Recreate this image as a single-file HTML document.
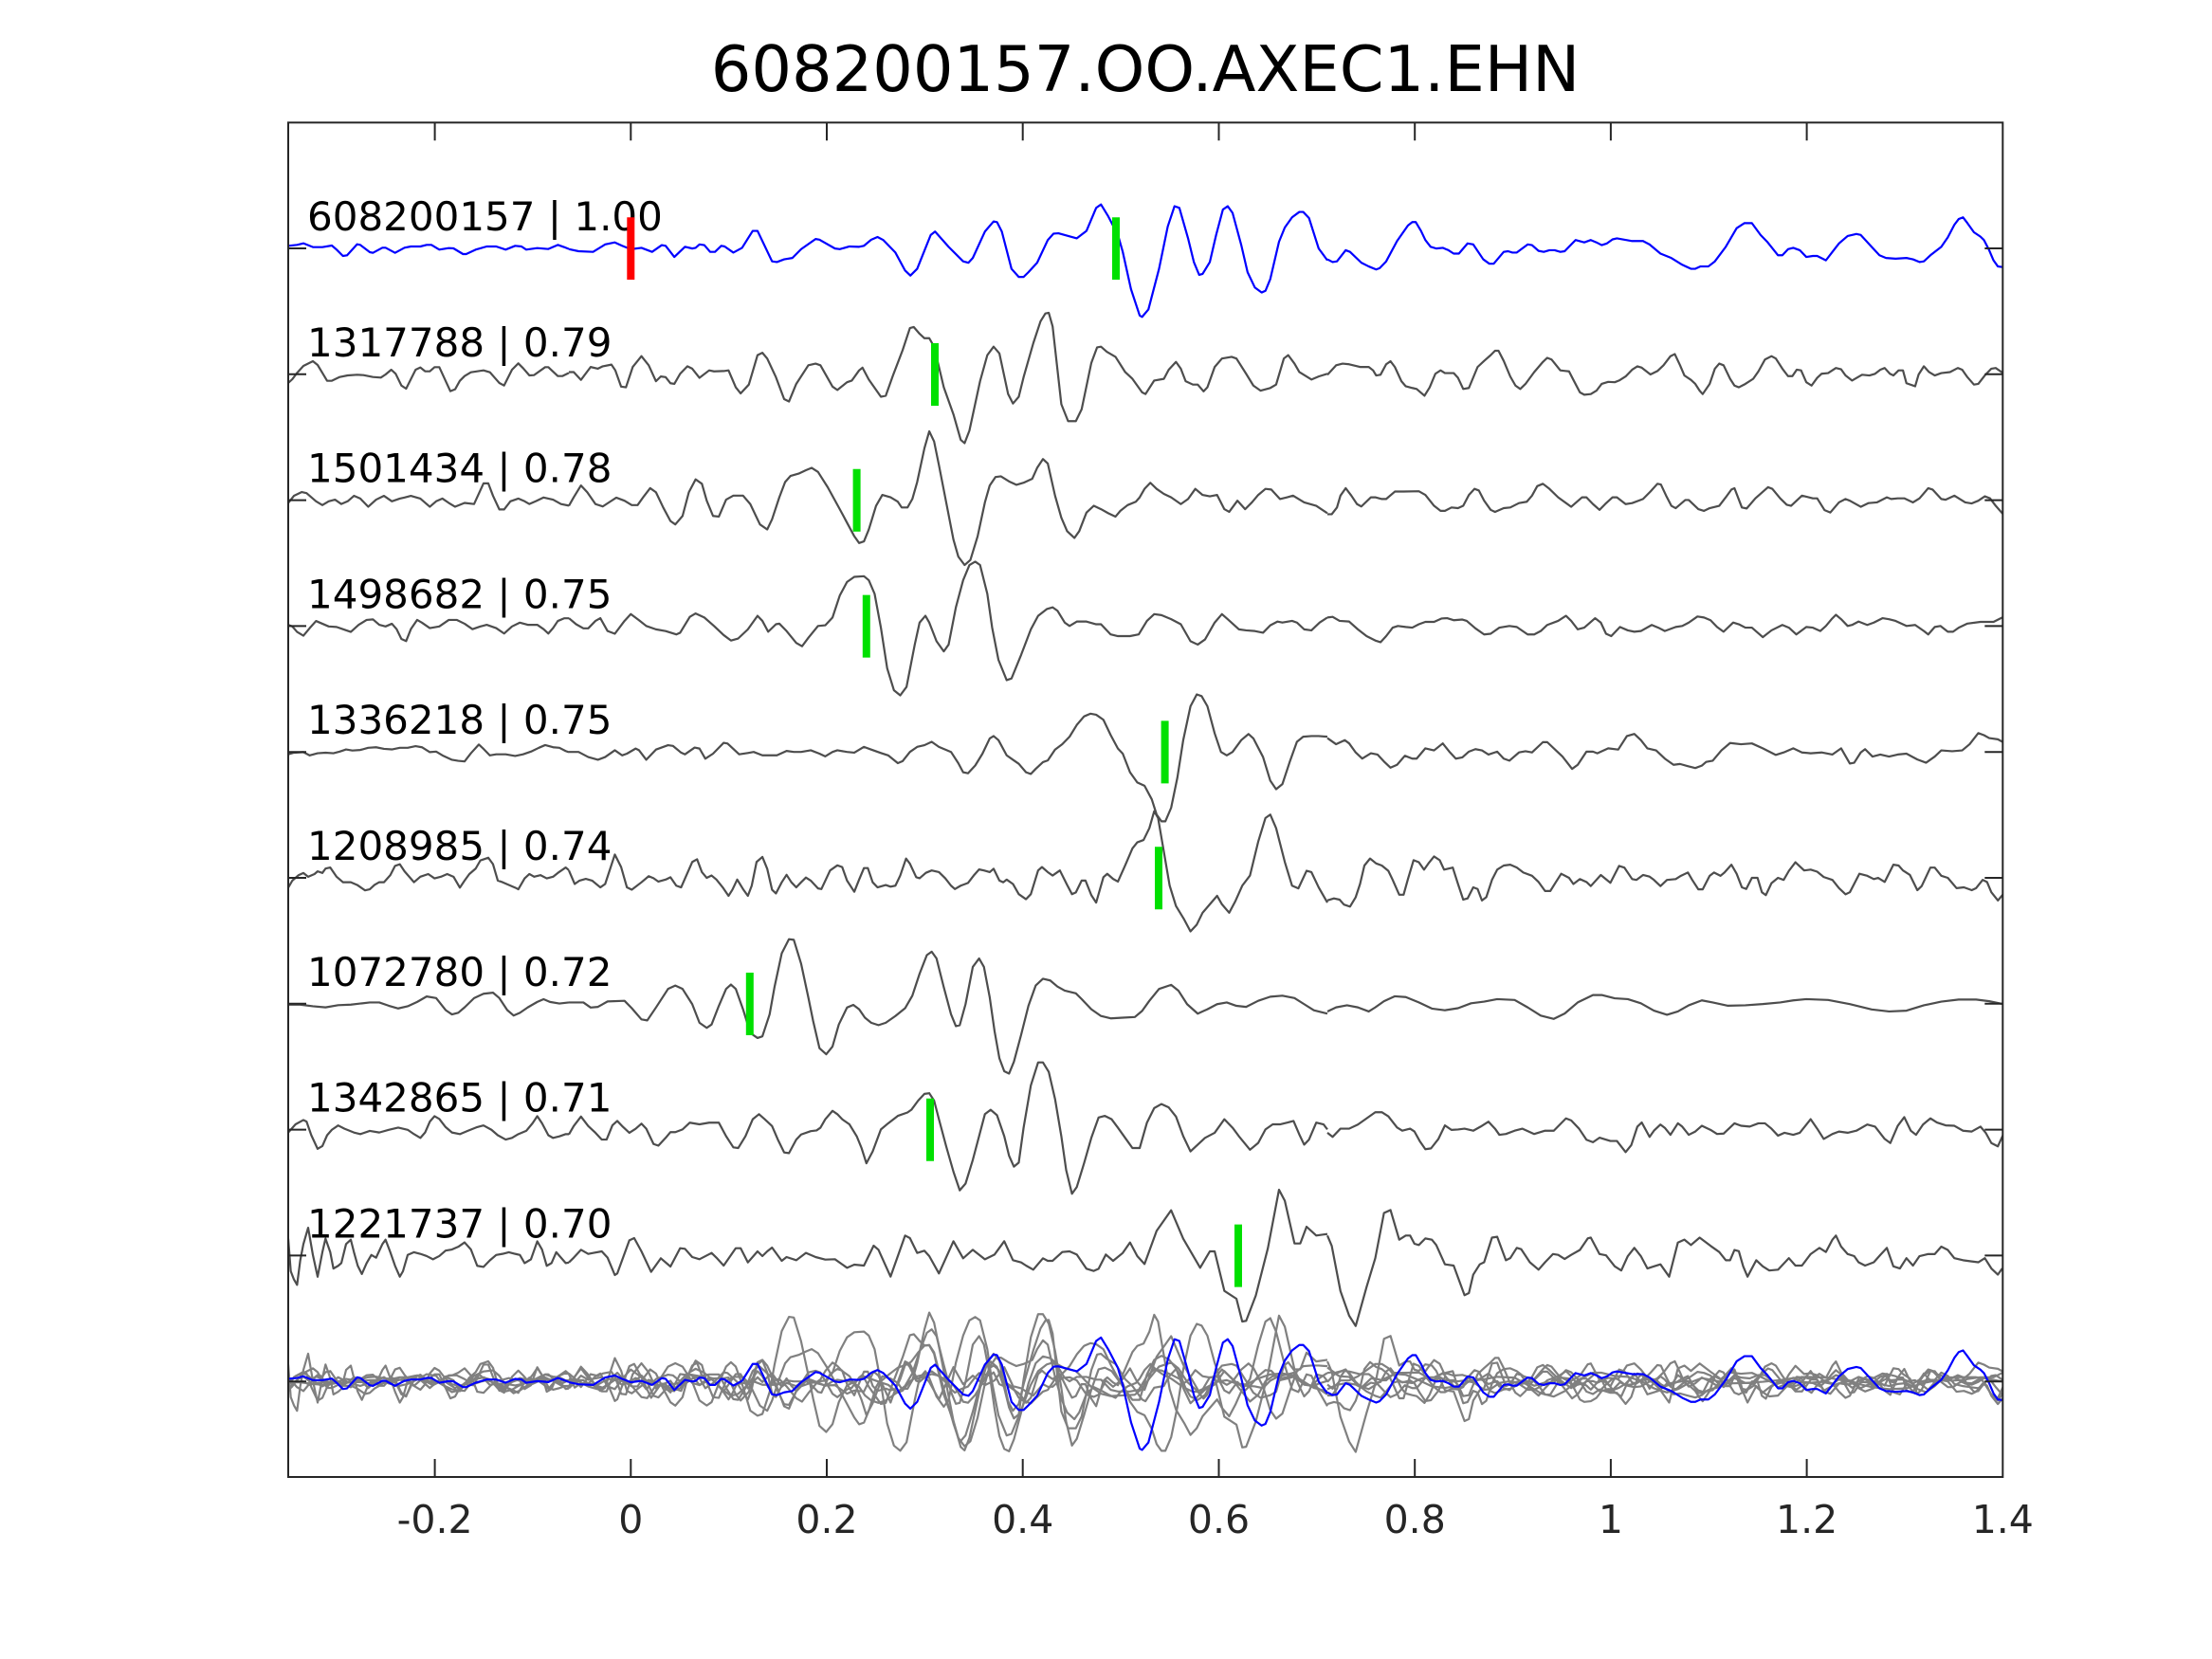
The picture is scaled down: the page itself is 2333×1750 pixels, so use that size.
<!DOCTYPE html>
<html><head><meta charset="utf-8"><style>
html,body{margin:0;padding:0;background:#fff;}
svg{display:block;}
text{font-family:"DejaVu Sans","Liberation Sans",sans-serif;}
</style></head><body>
<svg width="2333" height="1750" viewBox="0 0 2333 1750" xmlns="http://www.w3.org/2000/svg">
<defs>
<clipPath id="c"><rect x="304" y="129.3" width="1808.3" height="1428.7"/></clipPath>

<g id="t1" fill="none" stroke-width="2.2" stroke-linejoin="round">
<polyline vector-effect="non-scaling-stroke" transform="translate(280,100) scale(0.33333)" points="72,478 100,475 120,470 150,482 180,482 210,477 225,490 245,510 258,508 290,473 300,475 330,498 340,500 370,484 380,484 410,500 440,484 460,480 490,480 510,475 525,475 550,490 580,485 595,486 625,504 635,504 665,490 700,480 730,480 760,490 790,478 810,480 825,490 860,485 895,488 925,475 945,482 960,488"/>
<polyline vector-effect="non-scaling-stroke" transform="translate(600,180) scale(0.5102,0.3571)" points="0,232 20,238 50,240 75,218 95,212 110,222 128,232 150,228 172,240 192,220 200,222 218,255 240,225 255,230 262,228 270,218 280,220 292,240 302,240 315,222 322,224 340,242 358,228 380,178 390,178 420,268 430,270 445,262 462,258 480,232 510,202 518,204 550,230 560,232 580,224 600,225 610,222 625,204 638,196 650,205 675,242 695,295 706,310 720,290 748,190 757,180 785,225 815,268 826,272 835,258 860,180 878,150 885,152 895,180 915,290 930,314 940,314 950,300 968,272 990,205 1002,186 1012,185 1035,194 1050,200 1070,178 1090,110 1100,100 1115,135 1135,190 1145,240 1162,350 1180,428 1185,432 1198,410 1220,290 1238,165 1252,105 1262,110 1280,200 1292,270 1303,308 1310,305 1325,270 1338,190 1352,115 1362,105 1372,125 1390,220 1403,300 1418,345 1432,360 1440,355 1450,320 1468,210 1480,168 1495,138 1510,122 1518,122 1530,140 1550,230 1568,265"/>
<polyline vector-effect="non-scaling-stroke" transform="translate(1400,180) scale(0.4592,0.3571)" points="0,262 12,270 22,268 42,235 52,240 78,272 95,283 112,292 120,288 135,268 160,208 185,162 195,152 203,152 215,178 225,205 237,225 250,230 265,228 278,235 290,245 302,245 322,215 335,218 358,262 372,275 382,275 405,240 415,238 425,242 435,242 460,218 470,220 485,237 497,240 510,235 522,235 535,240 545,238 570,205 590,212 605,205 618,212 630,220 642,215 655,203 665,200 700,208 725,208 740,218 765,245 790,258 815,278 835,290 845,290 857,283 875,283 890,268 915,225 940,170 958,155 975,155 995,190 1010,210 1035,250 1045,250 1058,232 1070,228 1085,235 1100,255 1115,252 1125,252 1145,265 1160,240 1175,215 1195,193 1215,187 1225,190 1250,225 1268,250 1283,258 1305,260 1330,258 1345,262 1360,270 1370,268 1385,250 1410,225 1425,197 1440,160 1450,143 1460,138 1470,155 1485,182 1500,195 1508,205 1520,235 1530,265 1540,283 1552,285"/>
</g>

<g id="t2" fill="none" stroke-width="2.2" stroke-linejoin="round">
<polyline vector-effect="non-scaling-stroke" transform="translate(280,100) scale(0.33333)" points="72,912 85,900 100,880 120,858 150,843 165,855 180,880 195,905 210,905 235,893 260,888 290,886 310,887 340,893 365,895 380,885 398,870 412,883 430,920 445,930 475,870 490,863 505,875 520,875 535,862 550,862 585,938 600,932 615,905 630,890 650,878 690,872 710,878 725,895 740,912 755,920 780,870 800,850 815,865 835,888 850,887 885,862 895,862 925,890 940,890 960,880"/>
<polyline vector-effect="non-scaling-stroke" transform="translate(600,180) scale(0.5102,0.3571)" points="0,595 10,595 25,618 45,580 60,585 70,578 88,573 96,590 108,638 118,640 132,580 150,548 165,575 180,622 190,608 200,610 210,628 218,630 230,600 245,578 255,585 270,612 290,590 300,593 320,592 330,590 345,640 355,658 372,632 390,545 400,538 410,555 428,610 445,675 455,682 470,630 495,575 510,570 520,575 545,638 555,648 575,625 585,620 600,590 607,582 620,617 645,668 655,665 670,605 690,530 705,465 713,462 725,482 735,495 745,495 755,520 775,640 795,720 810,795 818,805 828,768 850,622 865,545 878,520 890,540 908,660 918,688 930,668 940,610 960,510 975,445 985,422 992,420 1000,460 1018,690 1032,740 1048,740 1060,705 1080,568 1092,522 1100,520 1112,535 1130,550 1150,595 1165,615 1185,655 1192,660 1210,620 1230,615 1240,588 1255,565 1265,585 1275,622 1290,632 1300,632 1312,652 1320,640 1335,580 1350,555 1370,550 1380,555 1400,600 1415,635 1430,650 1450,642 1462,632 1478,555 1487,545 1500,570 1510,595 1535,617 1550,608 1568,600"/>
<polyline vector-effect="non-scaling-stroke" transform="translate(1400,180) scale(0.4592,0.3571)" points="0,603 20,575 35,570 50,572 75,580 95,580 105,590 112,605 122,603 135,572 145,563 155,580 170,622 180,637 195,642 205,645 223,665 235,640 248,600 260,590 270,598 290,598 300,612 312,645 325,642 345,580 360,562 375,545 385,532 393,532 405,562 420,608 432,635 443,645 455,630 475,595 495,565 505,553 515,558 535,590 555,593 565,618 580,655 590,662 605,660 618,650 630,630 645,624 660,625 670,620 685,608 700,588 712,578 722,582 742,602 758,592 772,575 788,548 798,542 810,575 820,605 835,618 845,630 855,650 862,660 878,630 890,585 900,570 910,575 925,615 935,635 945,640 960,630 978,615 990,593 1005,558 1020,548 1030,555 1045,585 1058,607 1068,607 1078,588 1088,590 1100,625 1112,635 1125,612 1135,600 1150,598 1168,583 1180,587 1190,605 1205,620 1228,603 1245,605 1258,600 1270,588 1280,583 1292,600 1300,605 1312,590 1322,590 1330,628 1350,637 1358,602 1370,578 1382,595 1395,605 1410,598 1430,595 1448,583 1458,588 1470,610 1485,632 1495,630 1510,605 1525,585 1535,583 1552,598"/>
</g>

<g id="t3" fill="none" stroke-width="2.2" stroke-linejoin="round">
<polyline vector-effect="non-scaling-stroke" transform="translate(290,480) scale(0.33333,0.574)" points="42,88 60,75 85,68 100,70 130,85 150,92 170,85 190,82 210,90 230,85 250,75 270,80 295,95 320,82 345,75 370,85 395,80 410,78 430,75 460,80 490,95 510,85 530,80 550,88 570,95 600,88 630,90 660,52 675,52 690,75 710,100 725,100 745,85 770,80 790,85 805,90 825,85 850,78 880,82 905,90 930,93"/>
<polyline vector-effect="non-scaling-stroke" transform="translate(600,180) scale(0.5102,0.3571)" points="0,990 10,965 25,930 38,950 55,985 70,992 85,978 98,966 115,975 130,988 142,988 155,962 168,938 180,950 195,995 210,1035 220,1045 235,1020 248,950 262,912 275,925 285,975 298,1020 310,1022 325,972 340,960 360,960 375,985 395,1045 410,1060 420,1030 435,965 447,920 458,902 475,895 490,885 502,878 515,890 535,935 560,1000 590,1080 600,1100 610,1095 620,1060 635,990 648,958 665,965 680,978 688,995 700,995 710,970 720,920 735,820 745,770 755,800 765,870 780,980 795,1090 805,1140 818,1165 830,1150 845,1080 860,980 870,930 882,905 893,903 910,918 925,928 940,922 958,910 968,878 980,852 990,865 1005,960 1018,1025 1030,1065 1045,1085 1055,1065 1070,1010 1085,990 1100,1000 1115,1012 1130,1022 1140,1005 1155,988 1172,978 1180,965 1190,940 1202,922 1215,940 1230,955 1245,965 1265,985 1280,970 1295,940 1310,958 1325,962 1340,958 1355,1000 1365,1008 1382,975 1398,1000 1412,980 1425,958 1440,940 1452,942 1470,970 1485,965 1497,960 1520,980 1545,990 1568,1012"/>
<polyline vector-effect="non-scaling-stroke" transform="translate(1400,180) scale(0.4592,0.3571)" points="0,1015 10,1015 22,995 30,960 42,938 55,960 68,985 78,992 100,965 110,965 125,970 135,970 155,948 175,948 210,947 225,958 245,990 260,1005 270,1005 285,995 300,997 312,990 325,958 338,940 348,945 360,975 375,1002 385,1008 405,997 420,995 440,982 458,978 470,960 482,932 495,925 510,940 530,965 560,993 585,965 595,965 610,985 625,1002 638,985 655,965 665,965 685,985 700,982 725,970 742,948 758,925 766,927 778,960 790,990 800,997 822,973 830,973 852,1000 865,1005 878,997 900,990 915,965 928,942 935,938 952,995 963,998 983,968 1012,935 1022,940 1040,968 1055,987 1065,990 1090,960 1100,963 1115,968 1125,968 1142,1003 1155,1010 1175,980 1190,970 1200,975 1225,993 1243,982 1262,980 1285,965 1295,970 1310,968 1325,968 1345,980 1360,968 1380,938 1390,942 1410,970 1420,972 1440,960 1465,980 1480,983 1495,975 1510,962 1522,968 1535,990 1552,1015"/>
</g>

<g id="t4" fill="none" stroke-width="2.2" stroke-linejoin="round">
<polyline vector-effect="non-scaling-stroke" transform="translate(290,480) scale(0.33333,0.574)" points="42,312 55,315 70,325 90,332 110,318 130,305 150,310 170,315 195,316 215,320 240,325 265,312 290,303 310,302 330,312 350,315 370,310 385,320 400,338 415,342 430,320 450,303 465,308 490,318 520,315 550,303 575,303 600,310 625,320 650,315 670,312 700,318 725,328 750,315 775,308 800,312 830,312 850,320 865,328 880,318 895,305 915,300 930,300"/>
<polyline vector-effect="non-scaling-stroke" transform="translate(600,180) scale(0.5102,0.3571)" points="0,1322 15,1340 30,1352 40,1352 55,1330 65,1322 80,1360 95,1368 115,1330 128,1310 145,1328 160,1345 180,1355 200,1360 222,1370 230,1365 250,1318 262,1308 280,1320 300,1345 320,1372 335,1388 350,1382 370,1355 390,1315 400,1330 412,1362 428,1340 435,1338 450,1360 470,1395 482,1405 495,1380 515,1345 530,1343 545,1320 560,1255 575,1215 590,1200 610,1198 620,1210 632,1250 645,1350 658,1470 672,1535 685,1550 698,1525 715,1400 725,1335 737,1315 745,1335 760,1390 775,1420 785,1400 800,1290 815,1210 828,1165 840,1155 850,1165 865,1250 875,1350 888,1445 905,1505 915,1500 935,1430 955,1355 970,1315 988,1295 1000,1290 1010,1300 1025,1335 1035,1345 1050,1332 1070,1332 1090,1340 1100,1340 1120,1370 1135,1375 1160,1375 1178,1370 1195,1330 1210,1310 1225,1313 1245,1325 1265,1340 1285,1390 1300,1400 1315,1385 1335,1335 1350,1310 1362,1325 1385,1355 1400,1358 1418,1360 1435,1365 1450,1343 1465,1332 1475,1335 1495,1330 1505,1335 1520,1355 1535,1358 1552,1335 1568,1320"/>
<polyline vector-effect="non-scaling-stroke" transform="translate(1400,180) scale(0.4592,0.3571)" points="0,1320 12,1318 28,1330 50,1332 70,1355 90,1375 110,1388 122,1393 135,1375 150,1350 162,1345 180,1348 195,1350 210,1340 225,1333 245,1333 262,1323 275,1322 290,1328 310,1326 320,1330 340,1352 360,1370 375,1368 395,1350 418,1345 435,1348 460,1370 475,1370 490,1360 505,1342 530,1330 548,1315 560,1330 575,1355 590,1350 615,1322 628,1335 640,1368 652,1375 672,1348 690,1358 705,1362 720,1360 745,1342 760,1350 775,1360 800,1348 815,1345 830,1335 850,1317 865,1320 880,1328 895,1348 910,1362 932,1335 945,1340 960,1350 975,1350 1000,1378 1020,1358 1045,1342 1060,1350 1077,1370 1100,1348 1115,1350 1132,1360 1145,1345 1158,1325 1168,1312 1180,1325 1195,1345 1205,1342 1220,1332 1240,1342 1255,1335 1275,1322 1290,1325 1305,1330 1330,1345 1350,1342 1370,1360 1380,1370 1395,1348 1408,1345 1425,1362 1437,1362 1450,1350 1470,1338 1500,1333 1530,1333 1550,1320"/>
</g>

<g id="t5" fill="none" stroke-width="2.2" stroke-linejoin="round">
<polyline vector-effect="non-scaling-stroke" transform="translate(290,480) scale(0.33333,0.574)" points="42,550 60,547 90,546 110,552 135,548 160,547 185,548 205,545 225,541 245,543 270,542 295,538 320,537 345,540 370,541 395,538 420,538 445,535 465,537 490,546 510,545 530,552 560,560 580,562 600,563 620,548 645,532 660,540 680,552 700,550 730,550 760,553 785,550 810,545 835,538 855,533 880,537 900,538 920,544 930,546"/>
<polyline vector-effect="non-scaling-stroke" transform="translate(600,720) scale(0.5102,0.3571)" points="0,205 20,205 40,220 60,228 75,220 95,200 110,215 120,210 138,195 145,200 160,228 172,210 180,198 205,185 215,187 232,207 240,212 260,192 270,195 282,225 298,210 320,178 328,180 352,212 370,208 382,205 400,215 430,215 450,202 465,205 480,205 500,200 518,210 530,218 545,205 555,200 575,205 590,207 610,190 625,198 645,208 660,215 680,238 690,232 705,205 720,190 735,185 750,175 765,190 790,205 805,238 815,265 825,268 840,245 855,210 870,165 878,158 888,170 905,215 918,228 930,240 945,265 955,270 965,255 980,235 990,230 1005,198 1020,182 1035,160 1050,125 1065,100 1078,92 1090,95 1105,110 1120,155 1135,195 1145,210 1160,265 1175,295 1190,305 1205,345 1215,390 1225,410 1233,410 1245,370 1258,280 1270,170 1285,70 1298,35 1308,40 1320,70 1335,150 1348,205 1360,215 1372,205 1390,170 1405,152 1415,165 1435,220 1450,290 1462,315 1475,300 1490,235 1505,175 1518,160 1535,158 1550,158 1568,160"/>
<polyline vector-effect="non-scaling-stroke" transform="translate(1400,720) scale(0.4592,0.4337)" points="0,135 20,150 40,140 50,148 65,170 80,185 100,172 115,175 130,192 145,207 160,200 178,178 195,185 205,185 225,160 245,165 265,148 280,168 295,185 310,182 325,168 340,162 355,165 370,175 390,168 405,185 418,190 440,170 455,167 470,170 495,145 505,145 525,165 540,180 562,210 575,200 595,168 610,168 620,172 645,160 668,163 688,130 705,125 720,140 735,160 755,165 775,185 795,200 810,198 830,204 845,208 860,202 870,193 885,190 905,165 925,147 950,150 975,148 1000,160 1030,176 1048,170 1070,160 1090,170 1110,172 1135,170 1160,175 1180,160 1200,197 1210,195 1225,170 1235,162 1252,180 1270,175 1290,180 1310,175 1330,173 1355,187 1375,195 1395,180 1410,165 1435,167 1458,165 1475,150 1495,123 1508,128 1520,135 1540,138 1552,145"/>
</g>

<g id="t6" fill="none" stroke-width="2.2" stroke-linejoin="round">
<polyline vector-effect="non-scaling-stroke" transform="translate(290,480) scale(0.33333,0.574)" points="42,795 55,782 75,772 90,768 105,775 125,770 135,765 150,768 160,760 175,758 195,775 215,785 240,785 260,790 285,800 300,798 315,790 330,785 345,785 365,772 380,755 395,752 410,765 425,775 440,785 460,775 485,770 505,778 525,775 545,770 565,775 585,795 600,782 615,770 635,760 650,745 665,742 675,740 690,752 705,782 720,785 740,790 760,795 770,798 790,778 805,770 820,775 840,772 860,778 880,775 895,768 920,758 930,763"/>
<polyline vector-effect="non-scaling-stroke" transform="translate(600,720) scale(0.5102,0.3571)" points="0,555 12,595 22,585 35,580 48,585 65,605 75,595 95,508 108,545 120,605 130,612 150,590 165,572 175,578 185,588 200,582 210,575 222,600 232,605 255,530 265,522 275,560 285,577 295,570 305,582 318,605 330,630 338,612 348,582 360,610 370,630 378,600 388,530 400,515 410,550 420,612 428,623 440,590 450,568 460,590 470,605 480,590 490,576 500,585 515,608 522,610 540,555 555,540 565,545 575,585 590,618 600,582 610,548 618,548 628,590 638,605 655,598 665,603 675,600 685,570 697,520 705,535 718,575 725,578 738,562 750,555 765,560 778,578 790,600 798,610 810,600 825,592 838,568 848,552 858,555 870,560 878,550 890,585 898,590 905,582 918,595 930,625 945,640 955,625 970,555 978,545 990,560 1000,570 1015,555 1030,598 1040,625 1048,620 1060,585 1068,585 1080,628 1090,650 1105,575 1113,565 1125,580 1135,588 1150,540 1165,490 1175,472 1188,465 1200,430 1210,380 1218,400 1230,500 1242,600 1255,660 1272,700 1285,735 1298,715 1310,680 1325,655 1340,630 1350,655 1365,680 1378,645 1392,600 1408,570 1425,470 1440,400 1450,390 1462,430 1480,530 1495,600 1508,608 1525,556 1535,560 1550,605 1568,650"/>
<polyline vector-effect="non-scaling-stroke" transform="translate(1400,720) scale(0.4592,0.4337)" points="0,530 15,525 28,528 38,540 52,545 65,522 75,490 85,445 98,428 112,440 125,445 140,458 150,480 165,516 175,516 185,478 198,432 210,437 222,455 232,440 245,423 258,432 268,455 288,450 300,490 312,528 322,525 335,498 345,502 355,530 365,522 378,480 390,455 405,445 420,443 435,450 450,462 470,470 485,485 500,507 512,507 525,485 537,465 555,475 565,490 580,478 595,485 605,495 628,468 650,487 670,446 682,450 700,478 710,480 725,468 740,472 750,480 765,495 780,480 800,478 812,470 828,462 838,480 852,503 862,503 878,470 888,462 903,470 912,462 928,443 940,465 952,498 962,502 975,475 988,475 998,510 1007,517 1020,488 1035,475 1048,480 1060,458 1075,437 1095,457 1110,455 1125,460 1140,473 1160,480 1175,500 1190,515 1200,510 1222,465 1240,470 1255,478 1265,475 1280,485 1300,443 1312,445 1322,457 1338,468 1355,505 1365,495 1385,450 1395,450 1410,470 1425,475 1445,500 1462,498 1480,505 1490,500 1505,480 1515,485 1525,510 1540,530 1552,515"/>
</g>

<g id="t7" fill="none" stroke-width="2.2" stroke-linejoin="round">
<polyline vector-effect="non-scaling-stroke" transform="translate(290,480) scale(0.33333,0.574)" points="42,1010 80,1010 120,1013 160,1015 200,1011 240,1010 270,1008 300,1006 330,1006 360,1012 390,1017 420,1013 450,1005 480,995 510,998 540,1020 560,1028 580,1025 600,1015 630,998 660,990 690,988 710,998 735,1020 755,1030 775,1025 800,1015 830,1005 850,1000 870,1005 900,1008 930,1006"/>
<polyline vector-effect="non-scaling-stroke" transform="translate(600,720) scale(0.5102,0.3571)" points="0,945 30,945 45,960 60,958 80,942 115,940 130,962 150,995 162,998 180,960 205,905 220,895 235,905 255,950 270,1005 285,1020 295,1010 310,955 325,905 335,892 345,905 360,965 375,1035 390,1050 400,1045 415,980 425,900 440,800 455,758 465,760 480,830 495,930 505,1000 518,1080 532,1098 545,1075 558,1010 575,960 588,952 600,965 612,990 625,1005 640,1012 655,1005 675,985 695,962 710,925 725,860 740,805 750,795 760,815 775,900 790,980 800,1015 808,1012 820,950 835,840 848,815 858,840 870,930 880,1030 890,1110 900,1148 910,1155 920,1120 935,1040 950,955 965,895 980,875 995,880 1010,898 1025,910 1048,918 1060,935 1080,965 1100,985 1120,992 1145,990 1170,988 1185,970 1200,940 1220,905 1245,893 1260,910 1278,950 1300,978 1320,965 1340,950 1360,945 1380,955 1400,958 1425,940 1450,928 1475,925 1500,932 1520,950 1540,968 1568,978"/>
<polyline vector-effect="non-scaling-stroke" transform="translate(1400,720) scale(0.4592,0.4337)" points="0,800 20,790 45,785 70,790 95,800 110,790 130,775 155,763 180,765 210,778 240,793 270,797 300,792 330,780 360,776 390,770 430,772 460,790 490,810 520,818 545,805 575,778 610,760 630,760 660,768 690,770 720,780 750,798 780,808 805,800 830,785 860,773 885,778 920,786 960,785 1000,782 1040,778 1070,773 1100,770 1150,772 1200,782 1250,795 1290,800 1330,798 1370,785 1410,776 1450,771 1490,771 1520,775 1552,782"/>
</g>

<g id="t8" fill="none" stroke-width="2.2" stroke-linejoin="round">
<polyline vector-effect="non-scaling-stroke" transform="translate(290,480) scale(0.33333,0.574)" points="42,1245 65,1230 90,1222 100,1225 115,1250 135,1275 150,1270 165,1250 180,1240 200,1232 220,1238 250,1245 270,1248 300,1242 330,1245 360,1240 390,1236 420,1240 440,1248 460,1255 475,1245 490,1225 505,1215 520,1220 540,1235 560,1245 585,1248 610,1242 640,1235 660,1232 685,1240 705,1250 730,1258 750,1255 770,1248 795,1242 815,1228 830,1215 845,1228 865,1250 880,1255 900,1252 920,1248 930,1248"/>
<polyline vector-effect="non-scaling-stroke" transform="translate(600,720) scale(0.5102,0.3571)" points="0,1335 10,1310 25,1282 40,1310 55,1330 68,1350 78,1350 90,1308 100,1295 110,1310 125,1330 138,1318 150,1303 160,1318 175,1363 185,1368 200,1345 210,1328 220,1328 235,1320 250,1300 270,1305 290,1300 310,1300 325,1340 340,1373 350,1375 365,1340 380,1290 393,1275 405,1290 420,1310 432,1350 445,1388 455,1390 470,1350 480,1335 500,1325 512,1323 520,1315 530,1290 545,1265 555,1275 565,1290 580,1305 595,1340 605,1375 615,1420 628,1385 645,1320 660,1302 680,1280 700,1270 708,1262 722,1235 735,1215 745,1213 755,1235 765,1290 780,1370 795,1445 808,1500 820,1480 835,1410 848,1340 860,1275 872,1262 885,1278 900,1340 910,1398 920,1430 930,1418 940,1315 955,1190 970,1122 980,1122 992,1150 1005,1230 1018,1340 1028,1440 1040,1510 1050,1490 1065,1420 1080,1345 1095,1285 1108,1280 1122,1290 1135,1315 1150,1345 1165,1375 1180,1375 1195,1300 1210,1257 1225,1245 1240,1255 1255,1282 1270,1340 1285,1385 1300,1365 1315,1345 1335,1330 1355,1290 1372,1315 1385,1340 1408,1380 1425,1360 1440,1320 1455,1305 1470,1305 1485,1300 1498,1295 1510,1335 1520,1365 1530,1350 1545,1300 1560,1305 1568,1320"/>
<polyline vector-effect="non-scaling-stroke" transform="translate(1400,720) scale(0.4592,0.4337)" points="0,1095 12,1105 30,1085 50,1085 70,1075 90,1060 110,1045 125,1045 140,1055 160,1082 172,1090 190,1085 200,1092 212,1115 225,1135 238,1133 255,1110 270,1077 285,1088 300,1087 315,1085 335,1090 352,1080 370,1068 385,1085 395,1100 410,1098 430,1090 448,1085 475,1098 500,1090 520,1090 548,1060 560,1065 578,1085 595,1112 610,1118 625,1107 650,1115 665,1115 685,1142 698,1125 712,1080 722,1070 740,1105 750,1090 765,1075 775,1083 788,1100 805,1072 815,1080 830,1100 845,1092 860,1078 880,1088 895,1098 910,1097 935,1072 950,1078 970,1080 990,1072 1005,1072 1020,1085 1035,1102 1050,1095 1070,1100 1085,1095 1110,1062 1125,1085 1140,1110 1160,1098 1175,1092 1195,1095 1215,1090 1240,1075 1258,1080 1280,1110 1293,1120 1310,1078 1325,1057 1340,1090 1352,1100 1368,1075 1385,1060 1400,1070 1420,1077 1440,1078 1460,1090 1480,1092 1500,1080 1512,1095 1525,1120 1540,1128 1552,1100"/>
</g>

<g id="t9" fill="none" stroke-width="2.2" stroke-linejoin="round">
<polyline vector-effect="non-scaling-stroke" transform="translate(290,480) scale(0.33333,0.574)" points="42,1440 50,1500 60,1515 70,1525 80,1480 90,1450 105,1420 120,1470 135,1510 150,1465 160,1440 175,1465 185,1495 200,1490 210,1485 225,1450 240,1442 250,1465 262,1490 275,1505 290,1485 305,1470 320,1475 340,1450 350,1442 365,1465 380,1490 395,1510 405,1500 420,1470 440,1465 460,1468 480,1472 500,1478 520,1472 540,1462 560,1460 580,1455 600,1447 620,1460 640,1490 660,1492 680,1480 700,1470 720,1468 740,1465 760,1468 775,1470 790,1485 810,1478 830,1445 845,1460 860,1490 875,1485 890,1465 905,1475 920,1485 930,1484"/>
<polyline vector-effect="non-scaling-stroke" transform="translate(600,1240) scale(0.5102,0.33333)" points="0,275 10,260 25,235 40,248 50,245 68,240 80,260 95,315 100,310 125,205 135,198 150,240 170,305 190,262 210,288 230,230 240,232 255,258 270,265 295,245 305,260 320,285 345,230 355,230 370,275 390,240 400,255 410,240 420,228 440,270 450,258 470,268 490,245 510,258 530,266 550,265 575,292 590,282 610,285 630,222 640,235 665,320 695,190 705,198 720,245 735,238 745,255 765,310 795,208 815,262 835,235 860,265 880,250 900,208 918,268 935,275 945,285 960,298 980,262 990,270 1000,270 1020,242 1035,240 1050,250 1070,295 1085,302 1095,295 1110,250 1125,270 1145,245 1160,212 1175,255 1190,280 1215,175 1245,110 1270,200 1305,292 1325,240 1335,240 1355,365 1380,390 1392,462 1400,460 1420,380 1445,230 1468,45 1480,80 1500,215 1512,215 1525,162 1545,190 1568,185"/>
<polyline vector-effect="non-scaling-stroke" transform="translate(1400,720) scale(0.4592,0.4337)" points="0,1345 10,1370 30,1480 50,1540 65,1565 90,1470 110,1400 130,1290 145,1283 165,1355 180,1345 190,1345 200,1365 210,1368 225,1352 240,1355 250,1368 270,1415 290,1418 315,1490 325,1485 335,1440 350,1415 360,1410 378,1350 390,1348 410,1405 420,1400 435,1375 445,1378 465,1410 485,1428 500,1410 518,1390 530,1392 545,1402 560,1392 580,1380 598,1352 605,1350 625,1390 640,1393 660,1420 675,1430 690,1395 705,1375 720,1395 735,1425 750,1420 765,1415 785,1445 805,1362 820,1355 835,1368 855,1350 880,1370 900,1385 915,1405 925,1405 935,1380 945,1383 955,1420 965,1445 985,1405 1000,1420 1015,1430 1035,1428 1060,1400 1075,1418 1090,1418 1110,1390 1130,1375 1145,1385 1160,1355 1168,1345 1180,1372 1195,1390 1210,1395 1220,1410 1235,1418 1255,1410 1270,1392 1285,1375 1300,1420 1315,1425 1330,1400 1345,1418 1360,1395 1380,1390 1395,1390 1410,1372 1425,1380 1440,1400 1460,1405 1480,1408 1495,1410 1510,1400 1525,1425 1540,1440 1550,1425"/>
</g>
</defs>

<rect x="0" y="0" width="2333" height="1750" fill="#ffffff"/>

<text x="1208" y="96" font-size="67" text-anchor="middle" fill="#000">608200157.OO.AXEC1.EHN</text>

<g clip-path="url(#c)">
  <use href="#t1" stroke="#0000ff"/>
  <use href="#t2" stroke="#4d4d4d"/>
  <use href="#t3" stroke="#4d4d4d"/>
  <use href="#t4" stroke="#4d4d4d"/>
  <use href="#t5" stroke="#4d4d4d"/>
  <use href="#t6" stroke="#4d4d4d"/>
  <use href="#t7" stroke="#4d4d4d"/>
  <use href="#t8" stroke="#4d4d4d"/>
  <use href="#t9" stroke="#4d4d4d"/>
  <use href="#t2" stroke="#808080" transform="translate(0,1062.4)"/>
  <use href="#t3" stroke="#808080" transform="translate(0,929.6)"/>
  <use href="#t4" stroke="#808080" transform="translate(0,796.8)"/>
  <use href="#t5" stroke="#808080" transform="translate(0,664)"/>
  <use href="#t6" stroke="#808080" transform="translate(0,531.2)"/>
  <use href="#t7" stroke="#808080" transform="translate(0,398.4)"/>
  <use href="#t8" stroke="#808080" transform="translate(0,265.6)"/>
  <use href="#t9" stroke="#808080" transform="translate(0,132.8)"/>
  <use href="#t1" stroke="#0000ff" transform="translate(0,1195.2)"/>
</g>

<g font-size="42" fill="#000">
  <text x="324" y="243">608200157 | 1.00</text>
  <text x="324" y="375.8">1317788 | 0.79</text>
  <text x="324" y="508.6">1501434 | 0.78</text>
  <text x="324" y="641.4">1498682 | 0.75</text>
  <text x="324" y="774.2">1336218 | 0.75</text>
  <text x="324" y="907">1208985 | 0.74</text>
  <text x="324" y="1039.8">1072780 | 0.72</text>
  <text x="324" y="1172.6">1342865 | 0.71</text>
  <text x="324" y="1305.4">1221737 | 0.70</text>
</g>

<g stroke-width="8" stroke-linecap="butt">
  <line x1="665.3" y1="229.3" x2="665.3" y2="295" stroke="#ff0000"/>
  <g stroke="#00e000">
    <line x1="1177" y1="229.3" x2="1177" y2="295"/>
    <line x1="986" y1="362" x2="986" y2="428"/>
    <line x1="903.6" y1="494.8" x2="903.6" y2="560.8"/>
    <line x1="913.8" y1="627.6" x2="913.8" y2="693.6"/>
    <line x1="1228.6" y1="760.4" x2="1228.6" y2="826.4"/>
    <line x1="1222" y1="893.2" x2="1222" y2="959.2"/>
    <line x1="790.8" y1="1026" x2="790.8" y2="1092"/>
    <line x1="981" y1="1158.8" x2="981" y2="1224.8"/>
    <line x1="1306" y1="1291.6" x2="1306" y2="1357.6"/>
  </g>
</g>

<g stroke="#262626" stroke-width="2" fill="none">
  <rect x="304" y="129.3" width="1808.3" height="1428.7"/>
  <path d="M458.6 1558v-19M665.3 1558v-19M872 1558v-19M1078.7 1558v-19M1285.5 1558v-19M1492.2 1558v-19M1698.9 1558v-19M1905.6 1558v-19
           M458.6 129.3v19M665.3 129.3v19M872 129.3v19M1078.7 129.3v19M1285.5 129.3v19M1492.2 129.3v19M1698.9 129.3v19M1905.6 129.3v19
           M304 262h19M304 394.8h19M304 527.6h19M304 660.4h19M304 793.2h19M304 926h19M304 1058.8h19M304 1191.6h19M304 1324.4h19M304 1457.2h19
           M2112.3 262h-19M2112.3 394.8h-19M2112.3 527.6h-19M2112.3 660.4h-19M2112.3 793.2h-19M2112.3 926h-19M2112.3 1058.8h-19M2112.3 1191.6h-19M2112.3 1324.4h-19M2112.3 1457.2h-19"/>
</g>

<g font-size="41" fill="#262626" text-anchor="middle">
  <text x="458.6" y="1617">-0.2</text>
  <text x="665.3" y="1617">0</text>
  <text x="872" y="1617">0.2</text>
  <text x="1078.7" y="1617">0.4</text>
  <text x="1285.5" y="1617">0.6</text>
  <text x="1492.2" y="1617">0.8</text>
  <text x="1698.9" y="1617">1</text>
  <text x="1905.6" y="1617">1.2</text>
  <text x="2112.3" y="1617">1.4</text>
</g>
</svg>
</body></html>
